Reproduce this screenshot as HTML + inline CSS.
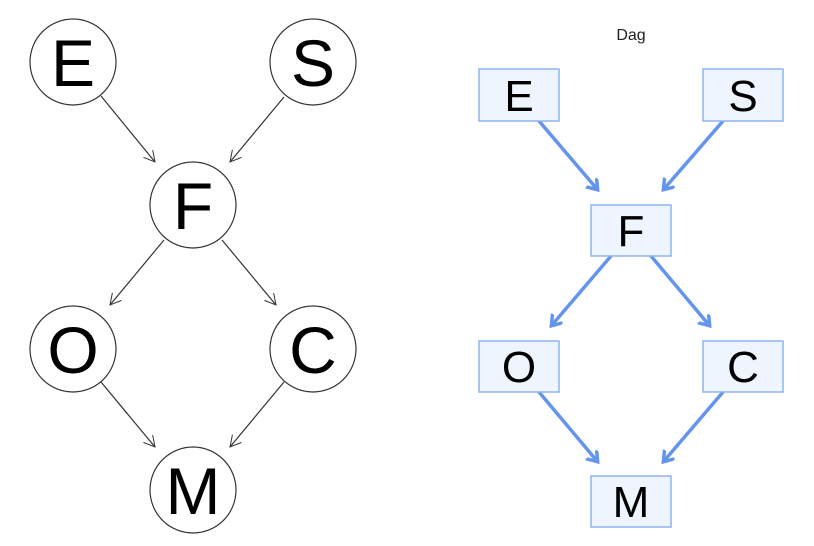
<!DOCTYPE html>
<html><head><meta charset="utf-8"><style>body{margin:0;background:#fff}svg{display:block}</style></head>
<body>
<svg width="814" height="546" viewBox="0 0 814 546" xmlns="http://www.w3.org/2000/svg" font-family="Liberation Sans, sans-serif">
<defs>
<marker id="v" markerWidth="16" markerHeight="16" refX="11" refY="6" orient="auto" markerUnits="userSpaceOnUse"><path d="M0,0 L11,6 L0,12" fill="none" stroke="#333" stroke-width="1"/></marker>
<marker id="b" markerWidth="20" markerHeight="20" refX="9" refY="7" orient="auto" markerUnits="userSpaceOnUse"><path d="M0,0 L10,7 L0,14" fill="none" stroke="#6495ed" stroke-width="3.5" stroke-linejoin="miter"/></marker>
</defs>
<g stroke="#333" stroke-width="1.2" fill="none">
<line x1="101" y1="96" x2="155" y2="162" marker-end="url(#v)"/>
<line x1="284" y1="97" x2="230" y2="162" marker-end="url(#v)"/>
<line x1="164" y1="240" x2="110" y2="305" marker-end="url(#v)"/>
<line x1="222" y1="240" x2="276" y2="305" marker-end="url(#v)"/>
<line x1="101" y1="382" x2="155" y2="447" marker-end="url(#v)"/>
<line x1="284" y1="382" x2="230" y2="447" marker-end="url(#v)"/>
</g>
<g stroke="#333" stroke-width="1.2" fill="#fff">
<circle cx="73" cy="62" r="43"/><circle cx="313" cy="62" r="43"/>
<circle cx="193" cy="205" r="43"/>
<circle cx="73" cy="349" r="43"/><circle cx="313" cy="349" r="43"/>
<circle cx="193" cy="490" r="43"/>
</g>
<g font-size="66" text-anchor="middle" fill="#000">
<text x="73" y="86">E</text><text x="313" y="86">S</text>
<text x="193" y="229">F</text>
<text x="73" y="373">O</text><text x="313" y="373">C</text>
<text x="193" y="514">M</text>
</g>
<text x="631" y="40" font-size="16" text-anchor="middle" fill="#222">Dag</text>
<g stroke="#6495ed" stroke-width="3.5" fill="none" stroke-linecap="round">
<line x1="539" y1="121" x2="597" y2="189" marker-end="url(#b)"/>
<line x1="723" y1="121" x2="664" y2="189" marker-end="url(#b)"/>
<line x1="611" y1="256" x2="552" y2="325" marker-end="url(#b)"/>
<line x1="651" y1="256" x2="709" y2="325" marker-end="url(#b)"/>
<line x1="539" y1="392" x2="597" y2="461" marker-end="url(#b)"/>
<line x1="723" y1="392" x2="664" y2="461" marker-end="url(#b)"/>
</g>
<g fill="#eef5ff" stroke="#8fb3f0" stroke-width="1.5">
<rect x="479" y="69" width="80" height="52"/><rect x="703" y="69" width="80" height="52"/>
<rect x="591" y="205" width="80" height="51"/>
<rect x="479" y="341" width="80" height="51"/><rect x="703" y="341" width="80" height="51"/>
<rect x="591" y="476" width="80" height="51"/>
</g>
<g font-size="44" text-anchor="middle" fill="#000">
<text x="519" y="111">E</text><text x="743" y="111">S</text>
<text x="631" y="246">F</text>
<text x="519" y="382">O</text><text x="743" y="382">C</text>
<text x="631" y="517">M</text>
</g>
</svg>
</body></html>
